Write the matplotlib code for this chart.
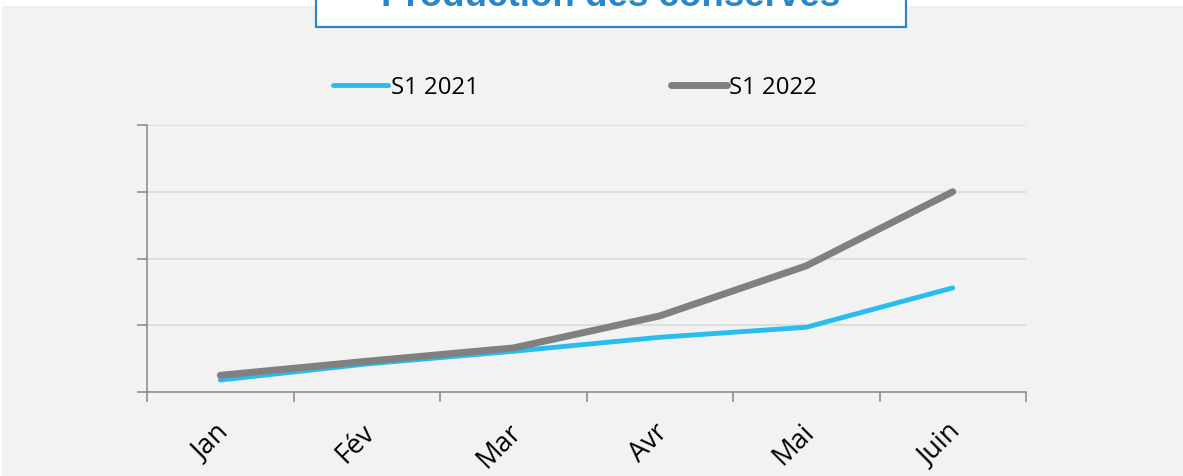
import numpy as np
import matplotlib.pyplot as plt
from matplotlib.patches import Rectangle
from matplotlib.transforms import ScaledTranslation

plt.rcParams['font.family'] = ['Open Sans', 'DejaVu Sans']

# data
mois = ['Jan', 'Fév', 'Mar', 'Avr', 'Mai', 'Juin']
s1_2021 = [18, 42, 61, 82, 97, 156]
s1_2022 = [25, 46, 66, 114, 189, 300]

bleu = '#29BCEF'
gris = '#808080'
axe = '#868686'

fig = plt.figure(figsize=(11.83, 4.77), dpi=100, facecolor='white')

# fond gris + cadre du titre
fig.patches.append(Rectangle((2 / 1183, 0), 1, 470 / 477, transform=fig.transFigure,
                             facecolor='#F2F2F2', edgecolor='none', zorder=-2))
fig.patches.append(Rectangle((316 / 1183, 449 / 477), 590 / 1183, 0.2, transform=fig.transFigure,
                             facecolor='white', edgecolor='#2E86C8', lw=1.6, zorder=-1))
fig.text(611 / 1183, 471 / 477, 'Production des conserves', ha='center', va='baseline',
         fontsize=26.5, fontweight='bold', color='#2A86C9', family='Liberation Sans', zorder=2)

ax = fig.add_axes([147 / 1183, 84 / 477, 879 / 1183, 267 / 477])
ax.set_facecolor('none')

x = np.arange(len(mois))
ax.plot(x, s1_2021, color=bleu, lw=3.5, solid_capstyle='round', label='S1 2021', zorder=3)
ax.plot(x, s1_2022, color=gris, lw=5, solid_capstyle='round', label='S1 2022', zorder=4)

ax.set_xlim(-0.5, 5.5)
ax.set_ylim(0, 400)
ax.set_yticks([0, 100, 200, 300, 400])
ax.set_yticklabels([])
ax.set_xticks(np.arange(-0.5, 6))
ax.set_xticklabels([])
ax.set_xticks(x, minor=True)
ax.set_xticklabels(mois, minor=True, rotation=45, ha='right', va='center',
                   rotation_mode='anchor', fontsize=19.5)
ax.tick_params(axis='x', which='minor', length=0, pad=27)
ax.tick_params(axis='both', which='major', length=7, width=1.1, color=axe, direction='out')
# petit décalage des étiquettes vers la droite
for lab in ax.get_xticklabels(minor=True):
    lab.set_transform(lab.get_transform() + ScaledTranslation(4 / 100, 2 / 100, fig.dpi_scale_trans))

ax.grid(axis='y', color='#D9D9D9', lw=1.1)
ax.set_axisbelow(True)
for s in ['top', 'right']:
    ax.spines[s].set_visible(False)
for s in ['left', 'bottom']:
    ax.spines[s].set_color(axe)
    ax.spines[s].set_linewidth(1.1)

ax.legend(loc='center left', bbox_to_anchor=(333 / 1183, 389 / 477), bbox_transform=fig.transFigure,
          ncol=2, frameon=False, fontsize=17.3, borderpad=0, handlelength=2.3, handletextpad=0.12,
          columnspacing=8.0, borderaxespad=0)

fig.savefig('out.png', dpi=100, facecolor=fig.get_facecolor())
